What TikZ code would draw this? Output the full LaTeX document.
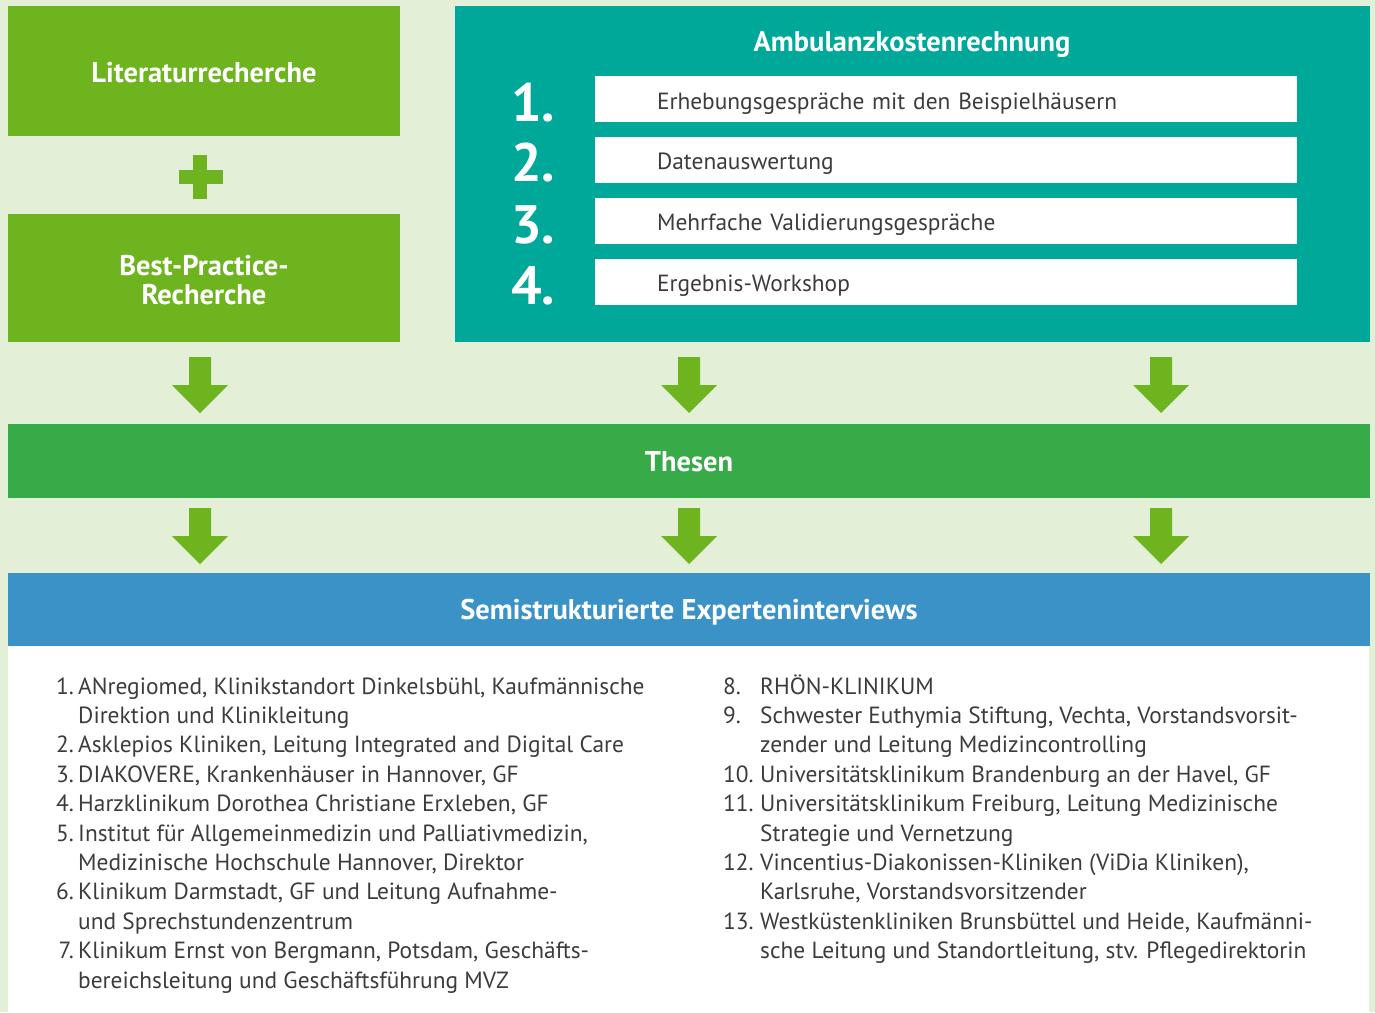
\documentclass[tikz,border=0pt]{standalone}
\usepackage{fontspec}
\setmainfont{PT Sans}
\definecolor{bgc}{HTML}{E3EFD7}
\definecolor{lime}{HTML}{6DB41F}
\definecolor{teal}{HTML}{00A89A}
\definecolor{thes}{HTML}{37AB47}
\definecolor{blu}{HTML}{3A92C6}
\definecolor{txt}{HTML}{3C3C3B}
\newcommand{\blockarr}[2]{\fill[lime] (#1-11,#2) -- (#1+11,#2) -- (#1+11,#2+28) -- (#1+28,#2+28) -- (#1,#2+56) -- (#1-28,#2+28) -- (#1-11,#2+28) -- cycle;}
\begin{document}
\begin{tikzpicture}[x=1pt,y=-1pt,
  head/.style={text=white, font=\fontsize{28.5}{29}\selectfont\bfseries, align=center, inner sep=0},
  band/.style={inner sep=0, minimum width=1362, minimum height=74},
  wbox/.style={fill=white, minimum height=46, text width=578, inner xsep=62, inner ysep=0, text height=21, text depth=1, align=left, text=txt, font=\fontsize{23.4}{26}\selectfont},
  num/.style={text=white, font=\fontsize{54}{54}\selectfont\bfseries, inner sep=0},
  li/.style={anchor=base west, inner sep=0, text=txt, font=\fontsize{23.4}{26}\selectfont}]
\useasboundingbox (0,0) rectangle (1375,1012);
\fill[bgc] (0,0) rectangle (1375,1012);
% left boxes
\node[fill=lime, minimum width=392, minimum height=130, inner sep=0] (lit) at (204,71) {};
\node[head] (litt) at (204,73) {Literaturrecherche};
\fill[lime] (193,155) rectangle (207,199);
\fill[lime] (179,170) rectangle (223,184);
\node[fill=lime, minimum width=392, minimum height=128, inner sep=0] (bp) at (204,278) {};
\node[head] (bpt) at (204,280) {Best-Practice-\\Recherche};
% teal box
\node[fill=teal, minimum width=915, minimum height=336, inner sep=0] (amb) at (912.5,174) {};
\node[head] (ambt) at (912,44) {Ambulanzkostenrechnung};
\node[wbox] (s1) at (946,99) {Erhebungsgespräche mit den Beispielhäusern};
\node[wbox] (s2) at (946,159.5) {Datenauswertung};
\node[wbox] (s3) at (946,220.5) {Mehrfache Validierungsgespräche};
\node[wbox] (s4) at (946,281.5) {Ergebnis-Workshop};
\node[num] (n1) at (533,103) {1.};
\node[num] (n2) at (533,163) {2.};
\node[num] (n3) at (533,225) {3.};
\node[num] (n4) at (533,286) {4.};
% arrows
\blockarr{200}{357}\blockarr{689}{357}\blockarr{1161}{357}
\blockarr{200}{508}\blockarr{689}{508}\blockarr{1161}{508}
% bands
\node[band, fill=thes] (th) at (689,461) {};
\node[head] (tht) at (689,462) {Thesen};
\node[band, fill=blu, minimum height=73] (se) at (689,609.5) {};
\node[head] (set) at (689,612) {Semistrukturierte Experteninterviews};
\fill[white] (8,646) rectangle (1369,1012);
% left list
\foreach \n/\t [count=\i] in {
 1./{ANregiomed, Klinikstandort Dinkelsbühl, Kaufmännische},
 /{Direktion und Klinikleitung},
 2./{Asklepios Kliniken, Leitung Integrated and Digital Care},
 3./{DIAKOVERE, Krankenhäuser in Hannover, GF},
 4./{Harzklinikum Dorothea Christiane Erxleben, GF},
 5./{Institut für Allgemeinmedizin und Palliativmedizin,},
 /{Medizinische Hochschule Hannover, Direktor},
 6./{Klinikum Darmstadt, GF und Leitung Aufnahme-},
 /{und Sprechstundenzentrum},
 7./{Klinikum Ernst von Bergmann, Potsdam, Geschäfts-},
 /{bereichsleitung und Geschäftsführung MVZ}} {
  \node[li, anchor=base east] (ln\i) at (74,{694+29.4*(\i-1)}) {\n};
  \node[li] (lt\i) at (78,{694+29.4*(\i-1)}) {\t};
}
% right list
\foreach \n/\t [count=\i] in {
 8./{RHÖN-KLINIKUM},
 9./{Schwester Euthymia Stiftung, Vechta, Vorstandsvorsit-},
 /{zender und Leitung Medizincontrolling},
 10./{Universitätsklinikum Brandenburg an der Havel, GF},
 11./{Universitätsklinikum Freiburg, Leitung Medizinische},
 /{Strategie und Vernetzung},
 12./{Vincentius-Diakonissen-Kliniken (ViDia Kliniken),},
 /{Karlsruhe, Vorstandsvorsitzender},
 13./{Westküstenkliniken Brunsbüttel und Heide, Kaufmänni-},
 /{sche Leitung und Standortleitung, stv. Pflegedirektorin}} {
  \node[li] (rn\i) at (723,{694+29.4*(\i-1)}) {\n};
  \node[li] (rt\i) at (760,{694+29.4*(\i-1)}) {\t};
}
\end{tikzpicture}
\end{document}
